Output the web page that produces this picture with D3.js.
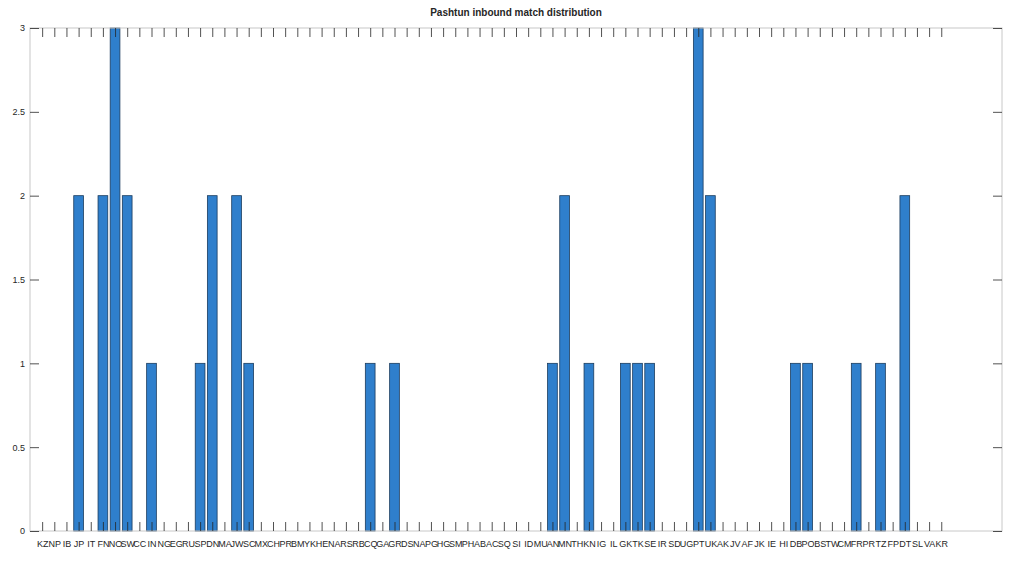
<!DOCTYPE html>
<html>
<head>
<meta charset="utf-8">
<script src="https://cdn.jsdelivr.net/npm/d3@7"></script>
<style>
  body { margin: 0; background: #fff; }
  text { font-family: "Liberation Sans", Arial, sans-serif; fill: #262626; }
</style>
</head>
<body>
<div class="chart"></div>
<script>
var svgWidth = 1022;
var svgHeight = 568;

// country codes along the x axis
var codes = ["KZ", "NP", "IB", "JP", "IT", "FN", "NO", "SW", "CC", "IN",
    "NG", "EG", "RU", "SP", "DN", "MA", "JW", "SC", "MX", "CH",
    "PR", "BM", "YK", "HE", "NA", "RS", "RB", "CQ", "GA", "GR",
    "DS", "NA", "PG", "HG", "SM", "PH", "AB", "AC", "SQ", "SI",
    "ID", "MU", "AN", "MN", "TH", "KN", "IG", "IL", "GK", "TK",
    "SE", "IR", "SD", "UG", "PT", "UK", "AK", "JV", "AF", "JK",
    "IE", "HI", "DB", "PO", "BS", "TW", "CM", "FR", "PR", "TZ",
    "FP", "DT", "SL", "VA", "KR"];

var counts = [0, 0, 0, 2, 0, 2, 3, 2, 0, 1,
    0, 0, 0, 1, 2, 0, 2, 1, 0, 0,
    0, 0, 0, 0, 0, 0, 0, 1, 0, 1,
    0, 0, 0, 0, 0, 0, 0, 0, 0, 0,
    0, 0, 1, 2, 0, 1, 0, 0, 1, 1,
    1, 0, 0, 0, 3, 2, 0, 0, 0, 0,
    0, 0, 1, 1, 0, 0, 0, 1, 0, 1,
    0, 2, 0, 0, 0];

var yTicks = [0, 0.5, 1, 1.5, 2, 2.5, 3];

var margin = { top: 28, right: 20, bottom: 37, left: 30 };
var width = svgWidth - margin.left - margin.right;
var height = svgHeight - margin.top - margin.bottom;

var svg = d3.select(".chart")
    .append("svg")
    .attr("width", svgWidth)
    .attr("height", svgHeight);

var chartGroup = svg.append("g")
    .attr("transform", `translate(${margin.left}, ${margin.top})`);

var xLinearScale = d3.scaleLinear()
    .domain([0, 80])
    .range([0, width]);

var yLinearScale = d3.scaleLinear()
    .domain([0, 3])
    .range([height, 0]);

var barW = xLinearScale(0.8) - xLinearScale(0);

// bars
chartGroup.selectAll("rect.bar")
    .data(counts)
    .enter()
    .append("rect")
    .classed("bar", true)
    .attr("x", (d, i) => xLinearScale(i + 1) - barW / 2)
    .attr("y", d => yLinearScale(d))
    .attr("width", barW)
    .attr("height", d => height - yLinearScale(d))
    .attr("fill", d => d > 0 ? "#2f7fcc" : "none")
    .attr("stroke", d => d > 0 ? "#1b3c5e" : "none")
    .attr("stroke-width", 0.8);

// box
chartGroup.append("rect")
    .attr("x", 0)
    .attr("y", 0)
    .attr("width", width)
    .attr("height", height)
    .attr("fill", "none")
    .attr("stroke", "#c8c8c8")
    .attr("stroke-width", 1);

var tickLen = 9;
var xIdx = d3.range(1, codes.length + 1);

// x ticks, bottom and top
var bottomAxis = d3.axisBottom(xLinearScale)
    .tickValues(xIdx)
    .tickSizeInner(-tickLen)
    .tickSizeOuter(0)
    .tickPadding(tickLen + 1)
    .tickFormat(d => codes[d - 1]);

var xAxis = chartGroup.append("g")
    .classed("x-axis", true)
    .attr("transform", `translate(0, ${height})`)
    .call(bottomAxis);

var topAxis = d3.axisTop(xLinearScale)
    .tickValues(xIdx)
    .tickSizeInner(-tickLen)
    .tickSizeOuter(0)
    .tickFormat("");

chartGroup.append("g")
    .attr("transform", "translate(0, 0)")
    .call(topAxis);

// y ticks, left and right
var leftAxis = d3.axisLeft(yLinearScale)
    .tickValues(yTicks)
    .tickSizeInner(-tickLen)
    .tickSizeOuter(0)
    .tickPadding(5)
    .tickFormat(d3.format("~g"));

chartGroup.append("g")
    .classed("y-axis", true)
    .call(leftAxis);

var rightAxis = d3.axisRight(yLinearScale)
    .tickValues(yTicks)
    .tickSizeInner(-tickLen)
    .tickSizeOuter(0)
    .tickFormat("");

chartGroup.append("g")
    .attr("transform", `translate(${width}, 0)`)
    .call(rightAxis);

chartGroup.selectAll(".domain").remove();
chartGroup.selectAll(".tick line")
    .attr("stroke", "#262626")
    .attr("stroke-width", 0.8);
chartGroup.selectAll(".tick text")
    .attr("font-size", "9px")
    .style("font-family", "Liberation Sans, Arial, sans-serif")
    .attr("fill", "#262626");

// title
svg.append("text")
    .attr("x", margin.left + width / 2)
    .attr("y", 16)
    .attr("text-anchor", "middle")
    .attr("font-size", "10px")
    .attr("font-weight", "bold")
    .text("Pashtun inbound match distribution");
</script>
</body>
</html>
